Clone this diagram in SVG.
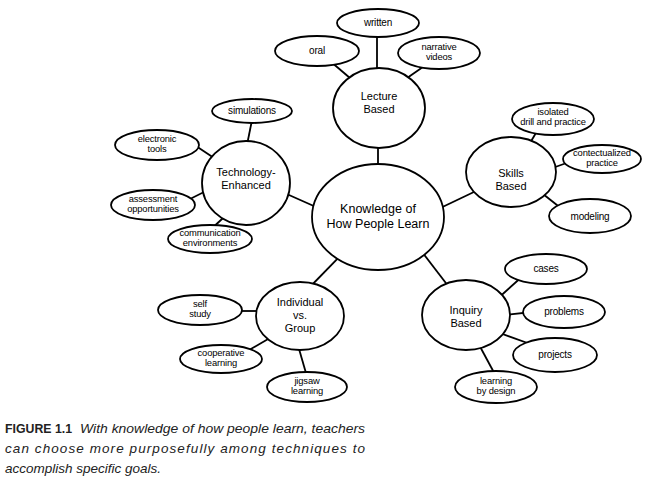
<svg xmlns="http://www.w3.org/2000/svg" width="655" height="489" viewBox="0 0 655 489">
<style>
.e{fill:#fff;stroke:#000;stroke-width:1.8}
.c line{stroke:#000;stroke-width:1.8}
text{font-family:"Liberation Sans",Arial,sans-serif;fill:#000;text-anchor:middle}
.b{font-size:11px}
.s{font-size:10px;letter-spacing:-0.2px}
.t{font-size:9.4px;letter-spacing:-0.15px}
.m{font-size:12.5px}
.cap{font-size:13.5px;text-anchor:start;font-style:italic;fill:#222}
.fig{font-size:13.5px;text-anchor:start;font-weight:bold;fill:#222}
</style>
<rect width="655" height="489" fill="#fff"/>
<g id="connectors" class="c">
<line x1="378" y1="140" x2="378" y2="172"/>
<line x1="377" y1="30" x2="377" y2="75"/>
<line x1="330" y1="61" x2="357" y2="84"/>
<line x1="430" y1="62" x2="400" y2="83"/>
<line x1="280" y1="191" x2="325" y2="211"/>
<line x1="253" y1="115" x2="246" y2="150"/>
<line x1="190" y1="142" x2="220" y2="162"/>
<line x1="184" y1="202" x2="212" y2="188"/>
<line x1="207" y1="233" x2="238" y2="204"/>
<line x1="432" y1="212" x2="476" y2="191"/>
<line x1="540" y1="126" x2="523" y2="155"/>
<line x1="575" y1="160" x2="544" y2="171"/>
<line x1="543" y1="194" x2="567" y2="213"/>
<line x1="306" y1="291" x2="345" y2="251"/>
<line x1="236" y1="311" x2="264" y2="311"/>
<line x1="244" y1="353" x2="275" y2="335"/>
<line x1="297" y1="342" x2="308" y2="380"/>
<line x1="419" y1="248" x2="452" y2="291"/>
<line x1="495" y1="301" x2="525" y2="274"/>
<line x1="504" y1="315" x2="532" y2="312"/>
<line x1="497" y1="332" x2="533" y2="345"/>
<line x1="477" y1="341" x2="498" y2="380"/>
</g>
<g id="n-center"><ellipse class="e" cx="378" cy="217" rx="66" ry="53"/><text class="m" x="378" y="213">Knowledge of</text><text class="m" x="378" y="228">How People Learn</text></g>
<g id="n-lecture"><ellipse class="e" cx="379" cy="108" rx="46" ry="40"/><text class="b" x="379" y="100">Lecture</text><text class="b" x="379" y="113">Based</text></g>
<g id="n-written"><ellipse class="e" cx="378" cy="23" rx="41" ry="14"/><text class="s" x="378" y="26">written</text></g>
<g id="n-oral"><ellipse class="e" cx="317" cy="51" rx="42" ry="15"/><text class="s" x="317" y="54">oral</text></g>
<g id="n-narrative"><ellipse class="e" cx="439" cy="53" rx="41" ry="16"/><text class="t" x="439" y="50">narrative</text><text class="t" x="439" y="60">videos</text></g>
<g id="n-tech"><ellipse class="e" cx="246" cy="183" rx="44" ry="42"/><text class="b" x="246" y="176">Technology-</text><text class="b" x="246" y="189">Enhanced</text></g>
<g id="n-simulations"><ellipse class="e" cx="252" cy="111" rx="40" ry="12"/><text class="s" x="252" y="114">simulations</text></g>
<g id="n-electronic"><ellipse class="e" cx="157" cy="145" rx="42" ry="15"/><text class="t" x="157" y="142">electronic</text><text class="t" x="157" y="152">tools</text></g>
<g id="n-assessment"><ellipse class="e" cx="153" cy="205" rx="42" ry="15"/><text class="t" x="153" y="202">assessment</text><text class="t" x="153" y="212">opportunities</text></g>
<g id="n-communication"><ellipse class="e" cx="210" cy="239" rx="42" ry="14"/><text class="t" x="210" y="236">communication</text><text class="t" x="210" y="246">environments</text></g>
<g id="n-skills"><ellipse class="e" cx="511" cy="172" rx="45" ry="35"/><text class="b" x="511" y="177">Skills</text><text class="b" x="511" y="190">Based</text></g>
<g id="n-isolated"><ellipse class="e" cx="553" cy="119" rx="41" ry="16"/><text class="t" x="553" y="115">isolated</text><text class="t" x="553" y="125">drill and practice</text></g>
<g id="n-contectualized"><ellipse class="e" cx="602" cy="159" rx="39" ry="14"/><text class="t" x="602" y="156">contectualized</text><text class="t" x="602" y="166">practice</text></g>
<g id="n-modeling"><ellipse class="e" cx="590" cy="216" rx="41" ry="17"/><text class="s" x="590" y="220">modeling</text></g>
<g id="n-individual"><ellipse class="e" cx="300" cy="316" rx="44" ry="34"/><text class="b" x="300" y="306">Individual</text><text class="b" x="300" y="319">vs.</text><text class="b" x="300" y="332">Group</text></g>
<g id="n-self"><ellipse class="e" cx="200" cy="310" rx="42" ry="15"/><text class="t" x="200" y="307">self</text><text class="t" x="200" y="317">study</text></g>
<g id="n-cooperative"><ellipse class="e" cx="221" cy="359" rx="41" ry="14"/><text class="t" x="221" y="356">cooperative</text><text class="t" x="221" y="366">learning</text></g>
<g id="n-jigsaw"><ellipse class="e" cx="307" cy="387" rx="40" ry="15"/><text class="t" x="307" y="384">jigsaw</text><text class="t" x="307" y="394">learning</text></g>
<g id="n-inquiry"><ellipse class="e" cx="466" cy="315" rx="44" ry="35"/><text class="b" x="466" y="314">Inquiry</text><text class="b" x="466" y="327">Based</text></g>
<g id="n-cases"><ellipse class="e" cx="546" cy="269" rx="41" ry="15"/><text class="s" x="546" y="272">cases</text></g>
<g id="n-problems"><ellipse class="e" cx="564" cy="312" rx="41" ry="16"/><text class="s" x="564" y="315">problems</text></g>
<g id="n-projects"><ellipse class="e" cx="555" cy="355" rx="42" ry="17"/><text class="s" x="555" y="358">projects</text></g>
<g id="n-design"><ellipse class="e" cx="496" cy="387" rx="41" ry="16"/><text class="t" x="496" y="384">learning</text><text class="t" x="496" y="394">by design</text></g>
<g id="caption">
<text class="fig" x="5" y="433" textLength="67" lengthAdjust="spacingAndGlyphs">FIGURE 1.1</text>
<text class="cap" x="80" y="433" textLength="285" lengthAdjust="spacingAndGlyphs">With knowledge of how people learn, teachers</text>
<text class="cap" x="5" y="453" textLength="360" lengthAdjust="spacing">can choose more purposefully among techniques to</text>
<text class="cap" x="5" y="473">accomplish specific goals.</text>
</g>
</svg>
